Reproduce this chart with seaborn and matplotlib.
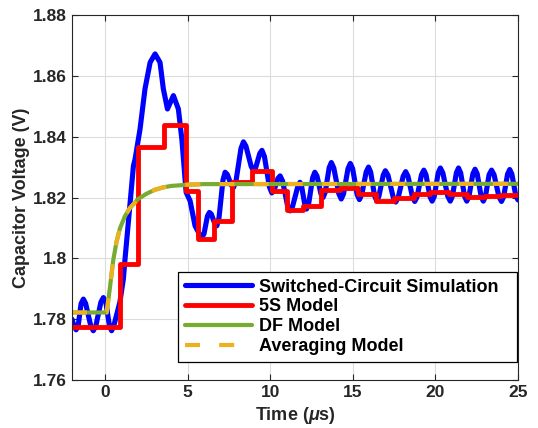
import numpy as np
import pandas as pd
import matplotlib.pyplot as plt
import seaborn as sns

# time axis in microseconds, capacitor voltage in volts

# switched-circuit simulation (peaks, troughs and their flanks)
sim_t = [-2.0, -1.88, -1.75, -1.62, -1.45, -1.31, -1.17, -0.86, -0.71, -0.56,
         -0.25, -0.1, 0.05, 0.27, 0.4, 0.53,
         0.9, 1.11, 1.21, 1.52, 1.72, 1.82, 2.12, 2.42, 2.73, 3.03, 3.33, 3.53,
         3.78, 4.14, 4.44, 4.65, 4.91, 5.15, 5.45,
         5.73, 5.86, 5.99, 6.2, 6.32, 6.44, 6.65, 6.77, 6.9, 7.14, 7.27, 7.4,
         7.65, 7.78, 7.93, 8.23, 8.38, 8.53, 8.85, 8.99, 9.12, 9.37, 9.5, 9.65,
         9.95, 10.1, 10.23, 10.47, 10.6, 10.75, 11.05, 11.2, 11.35, 11.67, 11.8,
         11.9, 12.1, 12.2, 12.33, 12.57, 12.7, 12.83, 13.07, 13.2, 13.33,
         13.57, 13.7, 13.85, 14.15, 14.3, 14.44, 14.71, 14.85, 14.99, 15.26,
         15.4, 15.54, 15.81, 15.95, 16.08, 16.32, 16.45, 16.58, 16.84, 16.97,
         17.13, 17.45, 17.6, 17.75, 18.05, 18.2, 18.34, 18.61, 18.75, 18.89,
         19.16, 19.3, 19.43, 19.67, 19.8, 19.93, 20.17, 20.3, 20.45, 20.75,
         20.9, 21.03, 21.27, 21.4, 21.53, 21.77, 21.9, 22.03, 22.27, 22.4,
         22.53, 22.77, 22.9, 23.03, 23.25, 23.4, 23.55, 23.85, 24.0, 24.13,
         24.37, 24.5, 24.63, 24.87, 25.0]
sim_v = [1.7800, 1.7778, 1.7765, 1.7780, 1.7851, 1.7866, 1.7851, 1.7777, 1.7762, 1.7777,
         1.7856, 1.7871, 1.7856, 1.7777, 1.7762, 1.7778,
         1.7856, 1.7932, 1.7997, 1.8185, 1.8304, 1.8326, 1.8425, 1.8557, 1.8644, 1.8672,
         1.8644, 1.8557, 1.8491, 1.8535, 1.8491, 1.8392, 1.8217, 1.8189, 1.8107,
         1.8078, 1.8069, 1.8080, 1.8139, 1.8151, 1.8145, 1.8113, 1.8107, 1.8133, 1.8257,
         1.8283, 1.8276, 1.8240, 1.8233, 1.8255, 1.8361, 1.8383, 1.8369, 1.8302, 1.8288,
         1.8298, 1.8345, 1.8355, 1.8335, 1.8235, 1.8215, 1.8223, 1.8263, 1.8271, 1.8254,
         1.8173, 1.8156, 1.8170, 1.8236, 1.8250, 1.8237, 1.8175, 1.8162, 1.8180, 1.8265,
         1.8283, 1.8271, 1.8212, 1.8200, 1.8217, 1.8298, 1.8315, 1.8297, 1.8213, 1.8195,
         1.8212, 1.8295, 1.8312, 1.8295, 1.8210, 1.8193, 1.8209, 1.8284, 1.8300, 1.8284,
         1.8205, 1.8189, 1.8204, 1.8273, 1.8288, 1.8273, 1.8200, 1.8185, 1.8200, 1.8270,
         1.8285, 1.8270, 1.8202, 1.8187, 1.8202, 1.8275, 1.8290, 1.8275, 1.8203, 1.8188,
         1.8203, 1.8281, 1.8297, 1.8281, 1.8204, 1.8188, 1.8204, 1.8281, 1.8297, 1.8281,
         1.8203, 1.8188, 1.8203, 1.8278, 1.8293, 1.8278, 1.8203, 1.8188, 1.8203, 1.8275,
         1.8290, 1.8275, 1.8202, 1.8187, 1.8202, 1.8277, 1.8292, 1.8277, 1.8205, 1.8192]

# 5S model (piecewise constant, value holds until next time)
s5_t = [-2.0, 0.9, 2.0, 3.6, 4.9, 5.6, 6.6, 7.7, 8.9, 10.1, 11.0, 12.0, 13.1,
        14.2, 15.3, 16.4, 17.5, 18.7, 19.7, 20.8, 21.9, 23.0, 24.0, 25.0]
s5_v = [1.7775, 1.7980, 1.8365, 1.8437, 1.8222, 1.8063, 1.8123, 1.8252, 1.8287,
        1.8220, 1.8158, 1.8172, 1.8225, 1.8232, 1.8213, 1.8190, 1.8197, 1.8210,
        1.8218, 1.8210, 1.8203, 1.8205, 1.8208, 1.8208]

# DF model and averaging model (nearly identical)
df_t = [-2.0, 0.1, 0.3, 0.5, 0.7, 0.9, 1.2, 1.5, 2.0, 2.5, 3.0, 3.5, 4.0, 5.0, 6.0, 25.0]
df_v = [1.7822, 1.7822, 1.7905, 1.7995, 1.8055, 1.8098, 1.8138, 1.8165, 1.8195,
        1.8212, 1.8225, 1.8233, 1.8238, 1.8242, 1.8244, 1.8245]
avg_t = df_t
avg_v = df_v

x_ticks = [0, 5, 10, 15, 20, 25]
y_ticks = [1.76, 1.78, 1.80, 1.82, 1.84, 1.86, 1.88]
y_ticklabels = ["1.76", "1.78", "1.8", "1.82", "1.84", "1.86", "1.88"]

sns.set_style("ticks")
plt.rcParams['font.family'] = ['Liberation Sans', 'DejaVu Sans']
plt.rcParams['font.weight'] = 'bold'
plt.rcParams['mathtext.fontset'] = 'custom'
plt.rcParams['mathtext.rm'] = 'Liberation Sans:bold'
plt.rcParams['mathtext.it'] = 'Liberation Sans:italic:bold'

dark = '#262626'

fig = plt.figure(figsize=(5.38, 4.28), dpi=100)
ax = fig.add_axes([0.1338, 0.1121, 0.829, 0.8529])

sns.lineplot(x=sim_t, y=sim_v, ax=ax, color=(0, 0, 1), lw=3.7,
             label="Switched-Circuit Simulation", solid_joinstyle='round')
sns.lineplot(x=s5_t, y=s5_v, ax=ax, color=(1, 0, 0), lw=3.5,
             drawstyle='steps-post', label="5S Model")
sns.lineplot(x=df_t, y=df_v, ax=ax, color='#77AC30', lw=3.0, label="DF Model")
sns.lineplot(x=avg_t, y=avg_v, ax=ax, color='#EDB120', lw=3.0,
             linestyle=(0, (3.6, 4.6)), label="Averaging Model")

ax.set_xlim(-2, 25)
ax.set_ylim(1.76, 1.88)
ax.set_xticks(x_ticks)
ax.set_yticks(y_ticks)
ax.set_yticklabels(y_ticklabels)
ax.grid(True, color='#dcdcdc', lw=0.8)
ax.tick_params(direction='in', top=True, right=True, labelsize=12.5,
               colors=dark, length=4, width=0.8)
for lab in ax.get_xticklabels() + ax.get_yticklabels():
    lab.set_fontweight('bold')
for sp in ax.spines.values():
    sp.set_color(dark)
    sp.set_linewidth(0.8)

ax.set_xlabel(r"Time ($\mu$s)", fontsize=13, fontweight='bold', color=dark, labelpad=4)
ax.set_ylabel("Capacitor Voltage (V)", fontsize=13, fontweight='bold', color=dark, labelpad=2)

leg = ax.legend(loc='lower left', bbox_to_anchor=(0.2377, 0.049, 0.7603, 0.25),
                mode='expand', borderaxespad=0,
                fontsize=13, frameon=True, fancybox=False, framealpha=1,
                edgecolor='black', handlelength=3.7, handletextpad=0.4,
                labelspacing=0.15, borderpad=0.4)
leg.get_frame().set_linewidth(0.9)
for t in leg.get_texts():
    t.set_fontweight('bold')
    t.set_color('black')

fig.savefig("out.png", dpi=100)
